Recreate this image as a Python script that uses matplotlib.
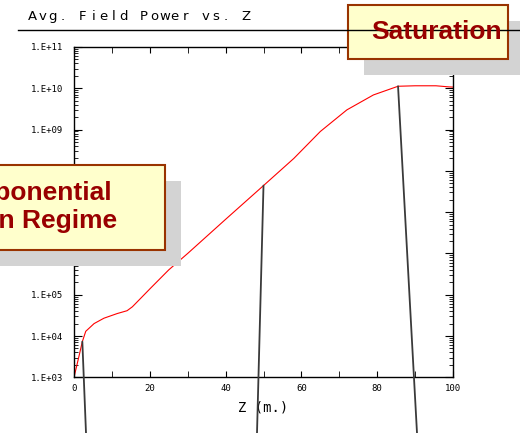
import numpy as np
import matplotlib.pyplot as plt
from matplotlib.patches import Rectangle

# Avg. field power along the undulator
z_m = [0, 1.3, 2.2, 3.1, 5.3, 7.9, 11.4, 14, 15.4, 17.6, 20.2, 25, 30, 40,
       50, 58, 65, 72, 79, 85.5, 90, 95.5, 99, 100]
power = [1e3, 3.2e3, 7.3e3, 1.3e4, 2.0e4, 2.7e4, 3.5e4, 4.1e4, 5.1e4, 8.2e4,
         1.44e5, 4.0e5, 1.0e6, 6.7e6, 4.4e7, 2.0e8, 9.0e8, 3.0e9, 6.9e9,
         1.12e10, 1.15e10, 1.15e10, 1.08e10, 1.07e10]

y_ticks = [1e3, 1e4, 1e5, 1e6, 1e7, 1e8, 1e9, 1e10, 1e11]
y_labels = ['1.E+03', '1.E+04', '1.E+05', '1.E+06', '1.E+07', '1.E+08',
            '1.E+09', '1.E+10', '1.E+11']
x_ticks = [0, 20, 40, 60, 80, 100]

title = 'Avg. Field Power vs. Z'
box_texts = ['Saturation', 'Exponential\nGain Regime']

# pointer lines: z position on curve
pointer_z = [2.2, 50, 85.5]

W, H = 520, 433


def fx(x):
    return x / W


def fy(y):
    return 1 - y / H


fig = plt.figure(figsize=(5.2, 4.33), dpi=100)
ax = fig.add_axes([fx(74), fy(377.3), fx(453) - fx(74), fy(47) - fy(377.3)])

ax.plot(z_m, power, color='red', lw=0.8)
ax.set_yscale('log')
ax.set_xlim(0, 100)
ax.set_ylim(1e3, 1e11)
ax.set_yticks(y_ticks)
ax.set_yticklabels(y_labels, fontsize=6.5, family='DejaVu Sans Mono')
ax.set_xticks(x_ticks)
ax.set_xticklabels([str(v) for v in x_ticks], fontsize=6.5, family='DejaVu Sans Mono')
ax.set_xticks(np.arange(10, 100, 20), minor=True)
ax.tick_params(which='both', direction='in', top=True, right=True, color='black')
ax.tick_params(axis='y', which='major', length=6, pad=8)
ax.tick_params(axis='y', which='minor', length=3)
ax.tick_params(axis='x', which='both', length=4, pad=5)
for s in ax.spines.values():
    s.set_linewidth(1.0)
ax.set_xlabel('Z (m.)', fontsize=10, family='DejaVu Sans Mono', labelpad=5)

# title, spaced out like the original
for i, ch in enumerate(title):
    fig.text(fx(32 + i * 10.2), fy(20), ch, fontsize=9.5, ha='center',
             va='baseline', family='DejaVu Sans')
fig.add_artist(plt.Line2D([fx(18), fx(520)], [fy(30), fy(30)], color='black', lw=1.0))

# pointer lines from the curve down past the figure edge
logp = np.log10(power)
bottoms = [86, 257, 417]
for zp, xb in zip(pointer_z, bottoms):
    pp = 10 ** np.interp(zp, z_m, logp)
    ax.annotate('', xy=(zp, pp), xycoords='data', xytext=(fx(xb), 0),
                textcoords='figure fraction', annotation_clip=False,
                arrowprops=dict(arrowstyle='-', color='#3a3a3a', lw=1.3,
                                shrinkA=0, shrinkB=0))

# callout boxes with shadow
fill = '#FFFFCC'
edge = '#993300'
txt = '#990000'


def callout(x0, y0, x1, y1, label, tx, ty):
    fig.add_artist(Rectangle((fx(x0 + 16), fy(y1 + 16)), fx(x1 - x0), (y1 - y0) / H,
                             facecolor='#D3D3D3', edgecolor='none'))
    fig.add_artist(Rectangle((fx(x0), fy(y1)), fx(x1 - x0), (y1 - y0) / H,
                             facecolor=fill, edgecolor=edge, lw=1.5))
    fig.text(fx(tx), fy(ty), label, ha='center', va='center', color=txt,
             fontsize=19, fontweight='bold', family='Liberation Sans',
             linespacing=1.25)


callout(348, 5, 508, 59, box_texts[0], 437, 32)
callout(-80, 165, 165, 250, box_texts[1], 37, 207)

fig.savefig('out.png', dpi=100)
